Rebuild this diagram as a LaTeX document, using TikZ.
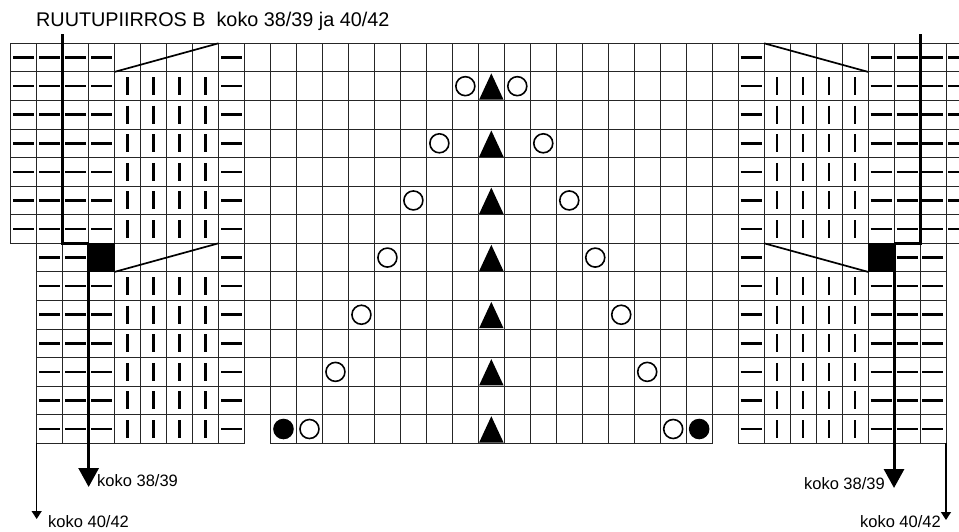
\documentclass[tikz,border=0pt]{standalone}
\usepackage{fontspec}
\setmainfont{Liberation Sans}
\usetikzlibrary{arrows.meta}
\begin{document}
\begin{tikzpicture}[x=1pt,y=-1pt,
  gridline/.style={draw=black!85,line width=0.85pt},
  purlmark/.style={line width=2.5pt,line cap=butt},
  knitmark/.style={line width=2.5pt,line cap=butt},
  slant/.style={line width=1.7pt},
  sizeline/.style={line width=3pt,line join=miter},
  thinarrow/.style={line width=1.3pt,-{Triangle[length=8pt,width=10pt]}},
  thickarrow/.style={line width=3pt,-{Triangle[length=19pt,width=20pt]}},
  yo/.style={line width=1.6pt},
  lbl/.style={inner sep=0pt,font=\fontsize{16.5}{18}\selectfont},
  ttl/.style={inner sep=0pt,font=\fontsize{19.8}{22}\selectfont}]
\useasboundingbox (0,0) rectangle (959,531);
\clip (0,0) rectangle (959,531);
\def\xo{10.7}\def\cw{25.98}\def\yo{43.3}\def\rh{28.571}
\newcommand\cellbox[2]{\draw[gridline] ({\xo+#1*\cw},{\yo+#2*\rh}) rectangle ++(\cw,\rh);}
\newcommand\pu[2]{\draw[purlmark] ({\xo+(#1+0.5)*\cw-10.5},{\yo+(#2+0.5)*\rh}) -- ++(21,0);}
\newcommand\kn[2]{\draw[knitmark] ({\xo+(#1+0.5)*\cw},{\yo+(#2+0.5)*\rh-9}) -- ++(0,18);}
% grid
\foreach \r in {0,...,6}{\foreach \c in {0,...,36}{\cellbox{\c}{\r}}}
\foreach \r in {7,...,12}{\foreach \c in {1,...,35}{\cellbox{\c}{\r}}}
\foreach \c in {1,...,8,10,11,...,26,28,29,...,35}{\cellbox{\c}{13}}
% left top
\foreach \r in {0,...,6}{\foreach \c in {0,1,2,3,8}{\pu{\c}{\r}}}
\foreach \r in {1,...,6}{\foreach \c in {4,...,7}{\kn{\c}{\r}}}
% left bottom
\foreach \r in {7,...,13}{\foreach \c in {1,2,8}{\pu{\c}{\r}}}
\foreach \r in {8,...,13}{\pu{3}{\r}\foreach \c in {4,...,7}{\kn{\c}{\r}}}
% right top
\foreach \r in {0,...,6}{\foreach \c in {28,33,34,35,36}{\pu{\c}{\r}}}
\foreach \r in {1,...,6}{\foreach \c in {29,...,32}{\kn{\c}{\r}}}
% right bottom
\foreach \r in {7,...,13}{\foreach \c in {28,34,35}{\pu{\c}{\r}}}
\foreach \r in {8,...,13}{\pu{33}{\r}\foreach \c in {29,...,32}{\kn{\c}{\r}}}
% slanted lines
\draw[slant] ({\xo+4*\cw},{\yo+1*\rh}) -- ({\xo+8*\cw},{\yo});
\draw[slant] ({\xo+4*\cw},{\yo+8*\rh}) -- ({\xo+8*\cw},{\yo+7*\rh});
\draw[slant] ({\xo+29*\cw},{\yo}) -- ({\xo+33*\cw},{\yo+1*\rh});
\draw[slant] ({\xo+29*\cw},{\yo+7*\rh}) -- ({\xo+33*\cw},{\yo+8*\rh});
% black squares
\fill ({\xo+3*\cw},{\yo+7*\rh}) rectangle ++(\cw,\rh);
\fill ({\xo+33*\cw},{\yo+7*\rh}) rectangle ++(\cw,\rh);
% middle motif
\foreach \k [evaluate=\k as \rr using int(2*\k+1), evaluate=\k as \ca using int(17-\k), evaluate=\k as \cb using int(19+\k)] in {0,...,6}{
  \fill ({\xo+18*\cw+0.8},{\yo+(\rr+1)*\rh-0.8}) -- ({\xo+19*\cw-0.8},{\yo+(\rr+1)*\rh-0.8}) -- ({\xo+18.5*\cw},{\yo+\rr*\rh+1.5}) -- cycle;
  \draw[yo] ({\xo+(\ca+0.5)*\cw},{\yo+(\rr+0.5)*\rh}) circle (9.5);
  \draw[yo] ({\xo+(\cb+0.5)*\cw},{\yo+(\rr+0.5)*\rh}) circle (9.5);
}
\fill ({\xo+10.5*\cw},{\yo+13.5*\rh}) circle (10.3);
\fill ({\xo+26.5*\cw},{\yo+13.5*\rh}) circle (10.3);
% size lines and arrows
\coordinate (lt) at ({\xo+2*\cw},34);
\coordinate (lc) at ({\xo+2*\cw},{\yo+7*\rh});
\coordinate (ls) at ({\xo+3*\cw},{\yo+7*\rh});
\coordinate (lk) at ({\xo+3*\cw},487);
\coordinate (lb) at ({\xo+1*\cw},{\yo+14*\rh});
\coordinate (lf) at ({\xo+1*\cw},519);
\coordinate (rt) at ({\xo+35*\cw},34);
\coordinate (rc) at ({\xo+35*\cw},{\yo+7*\rh});
\coordinate (rs) at ({\xo+34*\cw},{\yo+7*\rh});
\coordinate (rk) at ({\xo+34*\cw},488);
\coordinate (rb) at ({\xo+36*\cw},{\yo+14*\rh});
\coordinate (rf) at ({\xo+36*\cw},520);
\draw[sizeline] (lt) -- (lc) -- (ls);
\draw[thickarrow] (ls) -- (lk);
\draw[thinarrow] (lb) -- (lf);
\draw[sizeline] (rt) -- (rc) -- (rs);
\draw[thickarrow] (rs) -- (rk);
\draw[thinarrow] (rb) -- (rf);
% texts
\node[ttl,anchor=base west] (title) at (36,26) {RUUTUPIIRROS B\ \ koko 38/39 ja 40/42};
\node[lbl,anchor=base west] (l1) at (97,486.5) {koko 38/39};
\node[lbl,anchor=base west] (l2) at (48,527) {koko 40/42};
\node[lbl,anchor=base east] (r1) at (885,489) {koko 38/39};
\node[lbl,anchor=base east] (r2) at (941,527) {koko 40/42};
\end{tikzpicture}
\end{document}
